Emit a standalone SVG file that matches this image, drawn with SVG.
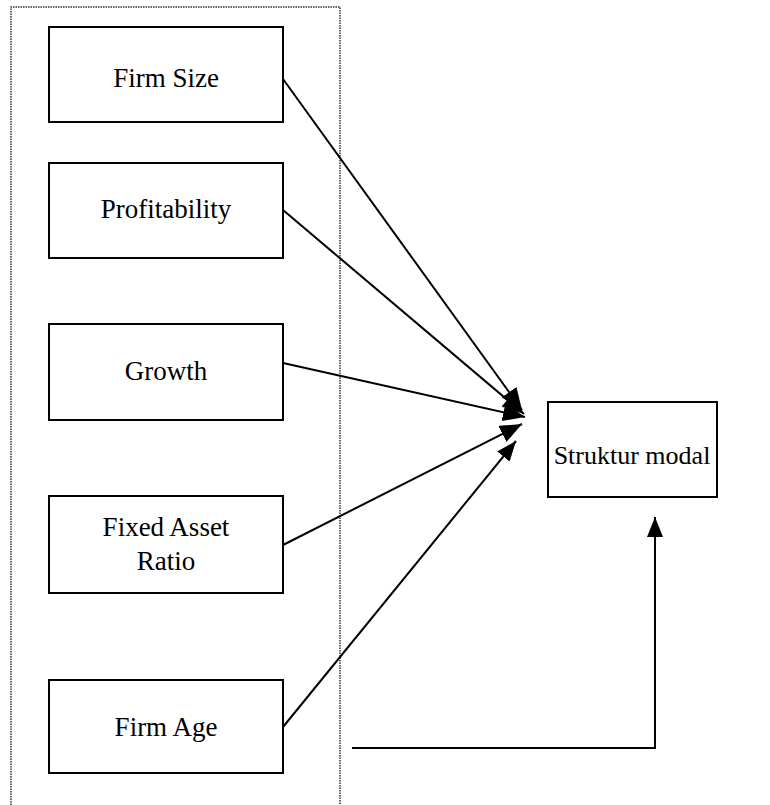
<svg xmlns="http://www.w3.org/2000/svg" width="770" height="805" viewBox="0 0 770 805">
<style>
.box{fill:#fff;stroke:#000;stroke-width:2}
.lbl{font-family:"Liberation Serif","Times New Roman",serif;font-size:27px;fill:#000;text-anchor:middle}
.edge{fill:none;stroke:#000;stroke-width:2}
.frame{fill:none;stroke:#333;stroke-width:1.5;stroke-dasharray:1.5 1}
</style>
<defs>
<marker id="arrB" viewBox="0 0 20 16" refX="20" refY="8" markerWidth="20" markerHeight="16" markerUnits="userSpaceOnUse" orient="auto">
<path d="M0,0 L20,8 L0,16 Z" fill="#000"/>
</marker>
<marker id="arrC" viewBox="0 0 22 18" refX="22" refY="9" markerWidth="22" markerHeight="18" markerUnits="userSpaceOnUse" orient="auto">
<path d="M0,0 L22,9 L0,18 Z" fill="#000"/>
</marker>
</defs>
<path class="frame" d="M11,805 L11,7 L340,7 L340,805"/>
<g id="firm-size"><rect class="box" x="49" y="27" width="234" height="95"/><text class="lbl" x="166" y="87">Firm Size</text></g>
<g id="profitability"><rect class="box" x="49" y="163" width="234" height="95"/><text class="lbl" x="166" y="218">Profitability</text></g>
<g id="growth"><rect class="box" x="49" y="324" width="234" height="96"/><text class="lbl" x="166" y="380">Growth</text></g>
<g id="fixed-asset-ratio"><rect class="box" x="49" y="496" width="234" height="97"/><text class="lbl" x="166" y="536">Fixed Asset</text><text class="lbl" x="166" y="570">Ratio</text></g>
<g id="firm-age"><rect class="box" x="49" y="680" width="234" height="93"/><text class="lbl" x="166" y="736">Firm Age</text></g>
<g id="struktur-modal"><rect class="box" x="548" y="402" width="169" height="95"/><text class="lbl" x="632" y="464" style="font-size:26px">Struktur modal</text></g>
<g id="connectors">
<line class="edge" x1="283" y1="79" x2="522" y2="410" marker-end="url(#arrC)"/>
<line class="edge" x1="283" y1="210" x2="524" y2="414" marker-end="url(#arrC)"/>
<line class="edge" x1="283" y1="363" x2="525" y2="417" marker-end="url(#arrC)"/>
<line class="edge" x1="283" y1="545" x2="522" y2="424" marker-end="url(#arrC)"/>
<line class="edge" x1="283" y1="727" x2="516" y2="441" marker-end="url(#arrB)"/>
<polyline class="edge" points="352,748 655,748 655,517" marker-end="url(#arrB)"/>
</g>
</svg>
